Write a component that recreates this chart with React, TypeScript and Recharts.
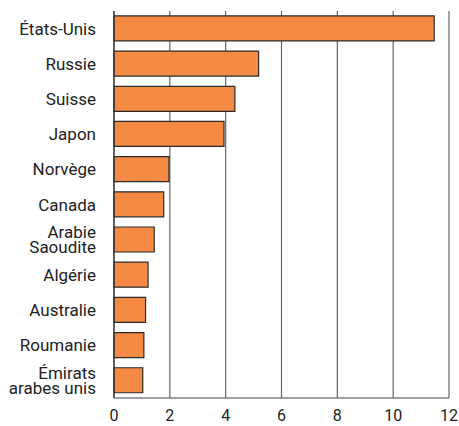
import {
  BarChart,
  Bar,
  XAxis,
  YAxis,
  CartesianGrid,
} from "recharts";

const countries: string[] = [
  "États-Unis",
  "Russie",
  "Suisse",
  "Japon",
  "Norvège",
  "Canada",
  "Arabie\nSaoudite",
  "Algérie",
  "Australie",
  "Roumanie",
  "Émirats\narabes unis",
];

const values: number[] = [11.47, 5.18, 4.33, 3.94, 1.97, 1.78, 1.44, 1.22, 1.13, 1.07, 1.03];

const xTicks: number[] = [0, 2, 4, 6, 8, 10, 12];

const data = countries.map((name, i) => ({ name, value: values[i] }));

const FONT = "Roboto, 'Noto Sans', sans-serif";

// category label, split on \n for the two-line names
const CountryTick = (props: any) => {
  const { x, y, payload } = props;
  const lines: string[] = String(payload.value).split("\n");
  const lineH = 15.5;
  const start = -((lines.length - 1) * lineH) / 2;
  return (
    <text
      x={x - 10}
      y={y}
      textAnchor="end"
      fill="#222"
      fontSize={17}
      fontFamily={FONT}
    >
      {lines.map((l, i) => (
        <tspan key={i} x={x - 10} dy={i === 0 ? start + 6 : lineH}>
          {l}
        </tspan>
      ))}
    </text>
  );
};

const App = () => {
  return (
    <div style={{ position: "absolute", left: 0, top: 0, background: "#fff" }}>
      <BarChart
        width={459}
        height={426}
        data={data}
        layout="vertical"
        margin={{ top: 11, right: 10, bottom: 0, left: 0 }}
        barCategoryGap="14%"
      >
        <CartesianGrid horizontal={false} stroke="#666" strokeWidth={1.2} />
        <XAxis
          type="number"
          domain={[0, 12]}
          ticks={xTicks}
          tickLine={false}
          axisLine={{ stroke: "#444", strokeWidth: 1.2 }}
          height={28}
          tick={{ fill: "#222", fontSize: 16, fontFamily: FONT, dy: 4 }}
          interval={0}
        />
        <XAxis
          xAxisId="top"
          orientation="top"
          type="number"
          domain={[0, 12]}
          tick={false}
          tickLine={false}
          axisLine={{ stroke: "#888", strokeWidth: 1.2 }}
          height={0}
        />
        <YAxis
          type="category"
          dataKey="name"
          width={114}
          tickLine={false}
          axisLine={{ stroke: "#333", strokeWidth: 1.2 }}
          tick={<CountryTick />}
          interval={0}
        />
        <Bar
          dataKey="value"
          fill="#F58A45"
          stroke="#2a2a2a"
          strokeWidth={1.2}
          isAnimationActive={false}
        />
      </BarChart>
    </div>
  );
};

export default App;
